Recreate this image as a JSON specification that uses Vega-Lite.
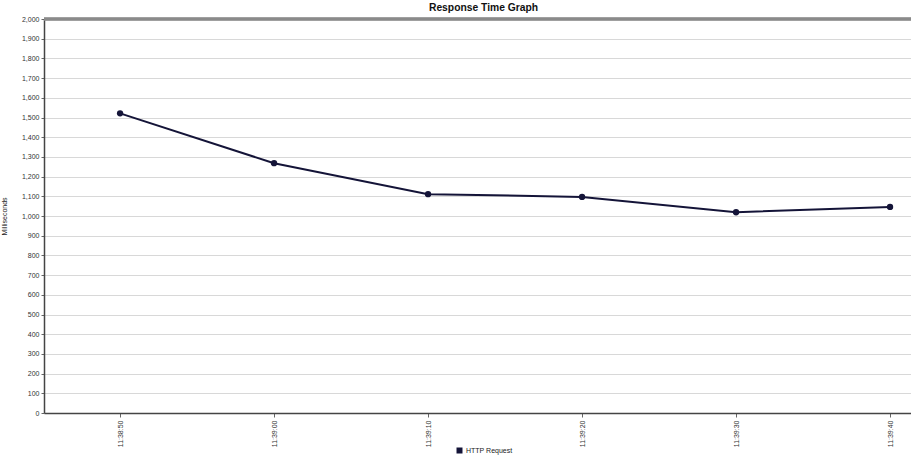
{
  "$schema": "https://vega.github.io/schema/vega-lite/v6.json",
  "width": 867,
  "height": 394,
  "autosize": {"type": "none"},
  "padding": {"left": 44, "top": 19, "right": 0, "bottom": 45},
  "background": "white",
  "title": {
    "text": "Response Time Graph",
    "fontSize": 10.3,
    "fontWeight": "bold",
    "color": "#111",
    "offset": 2,
    "dx": 6
  },
  "config": {
    "view": {"stroke": null},
    "font": "Liberation Sans",
    "axisY": {
      "titleFontSize": 7,
      "titleFontWeight": "normal",
      "titleColor": "#222",
      "titlePadding": 14,
      "format": ",d",
      "labelFontSize": 7,
      "labelColor": "#333",
      "labelPadding": 2,
      "tickSize": 3,
      "tickColor": "#666",
      "gridColor": "#d8d8d8",
      "gridWidth": 1,
      "domainColor": "#444",
      "domainWidth": 1.5
    }
  },
  "data": {
    "values": [
      {"time": "11:38:50", "t": 50, "ms": 1521, "series": "HTTP Request"},
      {"time": "11:39:00", "t": 60, "ms": 1268, "series": "HTTP Request"},
      {"time": "11:39:10", "t": 70, "ms": 1111, "series": "HTTP Request"},
      {"time": "11:39:20", "t": 80, "ms": 1097, "series": "HTTP Request"},
      {"time": "11:39:30", "t": 90, "ms": 1019, "series": "HTTP Request"},
      {"time": "11:39:40", "t": 100, "ms": 1046, "series": "HTTP Request"}
    ]
  },
  "layer": [
    {
      "encoding": {
        "x": {
          "field": "t",
          "type": "quantitative",
          "scale": {"domain": [45.06, 101.36], "nice": false, "zero": false},
          "axis": {
            "title": null,
            "values": [50, 60, 70, 80, 90, 100],
            "labelExpr": "datum.value < 60 ? '11:38:' + datum.value : '11:39:' + (datum.value == 60 ? '00' : (datum.value - 60))",
            "labelAngle": 270,
            "labelAlign": "right",
            "labelBaseline": "middle",
            "labelFontSize": 7,
            "labelColor": "#333",
            "labelPadding": 3,
            "grid": false,
            "tickSize": 4,
            "tickColor": "#666",
            "domainColor": "#444",
            "domainWidth": 1.5
          }
        },
        "y": {
          "field": "ms",
          "type": "quantitative",
          "scale": {"domain": [0, 2000], "nice": false},
          "axis": {
            "title": "Milliseconds",
            "values": [0,100,200,300,400,500,600,700,800,900,1000,1100,1200,1300,1400,1500,1600,1700,1800,1900,2000]
          }
        },
        "color": {
          "field": "series",
          "type": "nominal",
          "scale": {"range": ["#141438"]},
          "legend": {
            "title": null,
            "orient": "none",
            "legendX": 412,
            "legendY": 428,
            "symbolType": "square",
            "symbolSize": 20,
            "labelFontSize": 7,
            "labelColor": "#222",
            "labelOffset": 3
          }
        }
      },
      "layer": [
        {
          "mark": {"type": "line", "strokeWidth": 2}
        },
        {
          "mark": {"type": "point", "filled": true, "size": 40, "opacity": 1}
        }
      ]
    },
    {
      "mark": {"type": "rule", "color": "#8a8a8a", "strokeWidth": 2.5},
      "encoding": {
        "y": {
          "datum": 2000,
          "type": "quantitative",
          "axis": {
            "title": "Milliseconds",
            "values": [0,100,200,300,400,500,600,700,800,900,1000,1100,1200,1300,1400,1500,1600,1700,1800,1900,2000]
          }
        }
      }
    }
  ]
}
